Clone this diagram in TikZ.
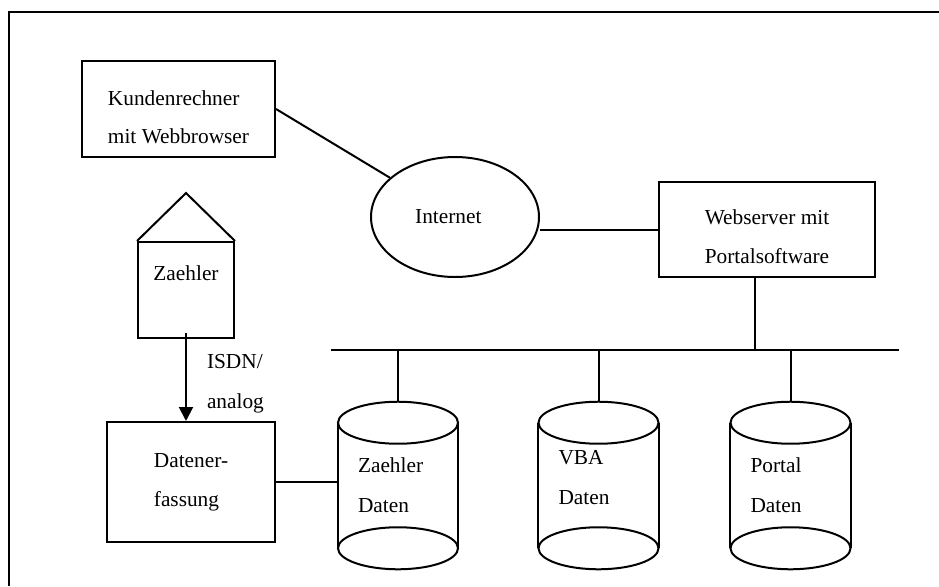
\documentclass[tikz,border=0pt]{standalone}
\usepackage{fontspec}
\setmainfont{Liberation Serif}
\usetikzlibrary{arrows.meta,calc,shapes.geometric}
\tikzset{
  >={Triangle[length=10.5pt,width=10.5pt]},
  line/.style={line width=1.5pt, draw=black, line join=miter},
  flow/.style={line, ->},
  kasten/.style={shape=rectangle, line, align=left, inner sep=0pt, font=\fontsize{16pt}{29pt}\selectfont},
  netz/.style={shape=ellipse, line, inner sep=0pt, font=\fontsize{16pt}{29pt}\selectfont},
  speicher/.style={shape=rectangle, inner sep=0pt, align=left, text width=60pt, minimum width=90pt, minimum height=125.25pt, font=\fontsize{16pt}{30pt}\selectfont},
  hinweis/.style={align=left, inner sep=0pt, font=\fontsize{16pt}{30pt}\selectfont},
  rahmen/.style={line width=1pt, draw=black}
}

\begin{document}
\begin{tikzpicture}[x=0.75pt, y=-0.75pt]
  \useasboundingbox (0,0) rectangle (939,586);
  \draw[rahmen] (939,12) -- (9,12) -- (9,586);

  \node[kasten, minimum width=144.75pt, minimum height=72pt] (kunde) at (178.5,109) {\rule{0pt}{23.5pt}Kundenrechner\\mit Webbrowser};
  \node[netz, minimum width=126pt, minimum height=90pt] (internet) at (455,217) {Internet\hspace*{10pt}};
  \node[kasten, align=center, minimum width=162pt, minimum height=71.25pt] (web) at (767,229.5) {\rule{0pt}{22pt}Webserver mit\\Portalsoftware};
  \node[kasten, minimum width=72pt, minimum height=72pt, text height=12pt, text depth=27pt] (zaehler) at (186,290) {Zaehler};
  \node[kasten, minimum width=126pt, minimum height=90pt] (erfassung) at (191,482) {Datener-\\fassung};

  \node[speicher] (zdaten) at (398,485.5) {Zaehler\\Daten};
  \node[speicher] (vdaten) at (598.5,485.5) {VBA\\Daten\rule[-12pt]{0pt}{12pt}};
  \node[speicher] (pdaten) at (790.5,485.5) {Portal\\Daten};

  % roof of the meter
  \coordinate (dach) at ($(zaehler.north)+(0,-48)$);
  \draw[line] (zaehler.north west) -- (dach) -- (zaehler.north east);

  % database cylinders
  \foreach \s in {zdaten,vdaten,pdaten} {
    \draw[line] ($(\s.north west)+(0,21)$) -- ($(\s.south west)+(0,-21)$);
    \draw[line] ($(\s.north east)+(0,21)$) -- ($(\s.south east)+(0,-21)$);
    \draw[line] ($(\s.north)+(0,21)$) ellipse [x radius=45pt, y radius=15.75pt];
    \draw[line] ($(\s.south)+(0,-21)$) ellipse [x radius=45pt, y radius=15.75pt];
  }

  \coordinate (busW) at (331,350);
  \coordinate (busE) at (899,350);
  \coordinate (webfuss) at ($(web.south)+(-12,0)$);
  \draw[line] (busW) -- (busE);

  \draw[line] (kunde.east) -- (internet);
  \draw[line] (web.west) -- (web.west -| internet.east);
  \draw[line] (webfuss) -- (webfuss |- busW);
  \foreach \s in {zdaten,vdaten,pdaten}
    \draw[line] (\s.north |- busW) -- (\s.north);
  \draw[flow, shorten <=-4.5pt] (zaehler.south) -- (zaehler.south |- erfassung.north)
    node[hinweis, midway, anchor=west, xshift=15pt, yshift=-3pt] (isdn) {ISDN/\\analog};
  \draw[line] (erfassung.east) -- (erfassung.east -| zdaten.west);
\end{tikzpicture}
\end{document}
